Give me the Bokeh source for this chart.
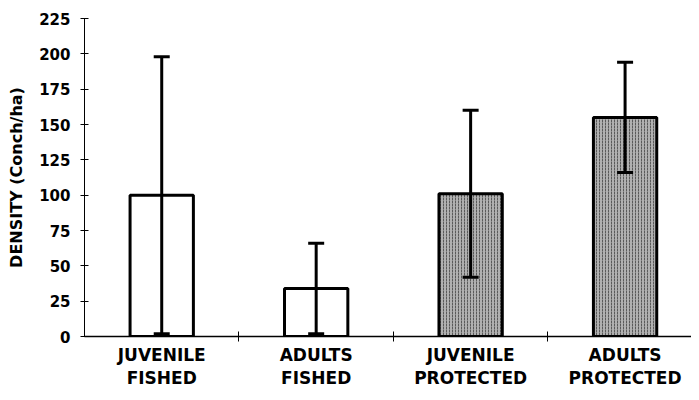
from bokeh.plotting import figure
from bokeh.models import ColumnDataSource, Range1d, FixedTicker, Whisker, TeeHead
from bokeh.embed import file_html
from bokeh.resources import INLINE

# ---- data ----
categories = ["JUVENILE\nFISHED", "ADULTS\nFISHED", "JUVENILE\nPROTECTED", "ADULTS\nPROTECTED"]
density = [100, 34, 101, 155]
error = [98, 32, 59, 39]
protected = [False, False, True, True]
y_ticks = [0, 25, 50, 75, 100, 125, 150, 175, 200, 225]

x_pos = [i + 0.5 for i in range(len(categories))]
boundaries = [i for i in range(1, len(categories) + 1)]

src = ColumnDataSource(dict(
    x=x_pos,
    top=density,
    upper=[d + e for d, e in zip(density, error)],
    lower=[d - e for d, e in zip(density, error)],
))

p = figure(width=691, height=392, output_backend="svg", toolbar_location=None,
           x_range=Range1d(0, 3.93), y_range=Range1d(0, 225),
           min_border_left=84, min_border_right=0, min_border_top=18, min_border_bottom=56)
p.outline_line_color = None
p.xgrid.grid_line_color = None
p.ygrid.grid_line_color = None
p.background_fill_color = "white"
p.border_fill_color = "white"

white_idx = [i for i, pr in enumerate(protected) if not pr]
gray_idx = [i for i, pr in enumerate(protected) if pr]

p.vbar(x=[x_pos[i] for i in white_idx], top=[density[i] for i in white_idx], width=0.41,
       fill_color="white", line_color="black", line_width=3)
p.vbar(x=[x_pos[i] for i in gray_idx], top=[density[i] for i in gray_idx], width=0.41,
       fill_color="#b0b0b0", line_color="black", line_width=3,
       hatch_pattern=":", hatch_color="#222222", hatch_scale=3, hatch_weight=1, hatch_alpha=0.6)

w = Whisker(source=src, base="x", upper="upper", lower="lower", dimension="height",
            line_color="black", line_width=3, level="annotation",
            upper_head=TeeHead(size=16, line_width=3, line_color="black"),
            lower_head=TeeHead(size=16, line_width=3, line_color="black"))
p.add_layout(w)

# y axis
yax = p.yaxis[0]
yax.ticker = FixedTicker(ticks=y_ticks)
yax.minor_tick_line_color = None
yax.major_tick_in = 4
yax.major_tick_out = 4
yax.axis_line_width = 1
yax.major_label_text_font = "DejaVu Sans"
yax.major_label_text_font_style = "bold"
yax.major_label_text_font_size = "15px"
yax.major_label_text_color = "black"
yax.major_label_standoff = 10
yax.axis_label = "DENSITY (Conch/ha)"
yax.axis_label_text_font = "DejaVu Sans"
yax.axis_label_text_font_style = "bold"
yax.axis_label_text_font_size = "16px"
yax.axis_label_text_color = "black"
yax.axis_label_standoff = 10

# x axis
xax = p.xaxis[0]
xax.ticker = FixedTicker(ticks=x_pos, minor_ticks=boundaries)
xax.major_label_overrides = {x: c for x, c in zip(x_pos, categories)}
xax.major_tick_line_color = None
xax.major_tick_in = 0
xax.major_tick_out = 0
xax.minor_tick_in = 5
xax.minor_tick_out = 5
xax.minor_tick_line_color = "black"
xax.axis_line_width = 1.5
xax.major_label_text_font = "DejaVu Sans"
xax.major_label_text_font_style = "bold"
xax.major_label_text_font_size = "17px"
xax.major_label_text_color = "black"
xax.major_label_text_line_height = 1.15
xax.major_label_standoff = 3

open("out.html", "w").write(file_html(p, INLINE))
